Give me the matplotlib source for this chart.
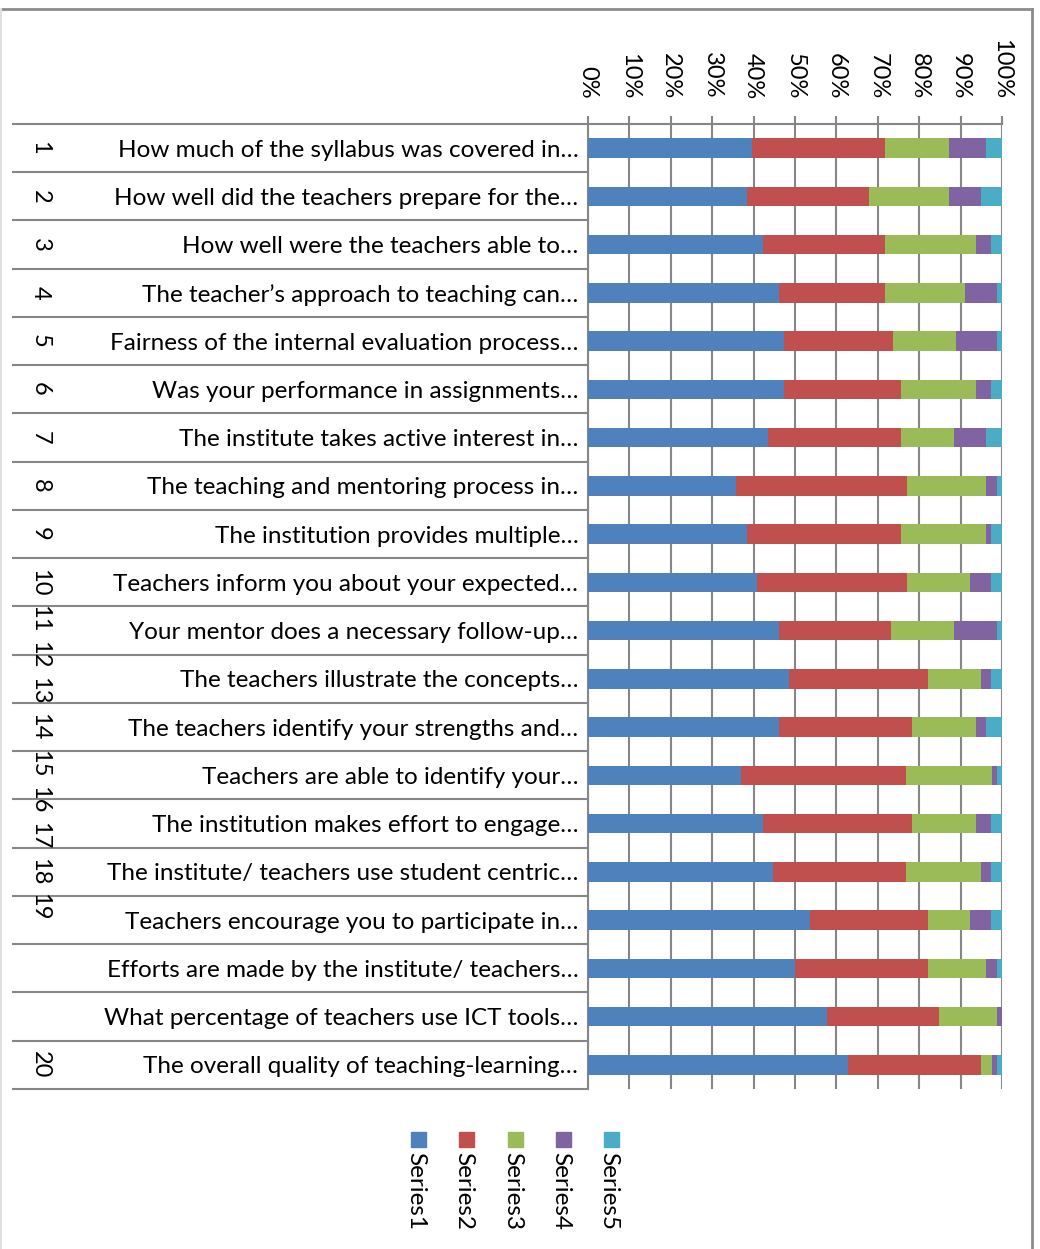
import numpy as np
import matplotlib
matplotlib.use("Agg")
import matplotlib.pyplot as plt
from matplotlib.lines import Line2D
from matplotlib.patches import Rectangle

# survey questions (inner category level) and outer numbering
questions = [
    "How much of the syllabus was covered in\u2026",
    "How well did the teachers prepare for the\u2026",
    "How well were the teachers able to\u2026",
    "The teacher\u2019s approach to teaching can\u2026",
    "Fairness of the internal evaluation process\u2026",
    "Was your performance in assignments\u2026",
    "The institute takes active interest in\u2026",
    "The teaching and mentoring process in\u2026",
    "The institution provides multiple\u2026",
    "Teachers inform you about your expected\u2026",
    "Your mentor does a necessary follow-up\u2026",
    "The teachers illustrate the concepts\u2026",
    "The teachers identify your strengths and\u2026",
    "Teachers are able to identify your\u2026",
    "The institution makes effort to engage\u2026",
    "The institute/ teachers use student centric\u2026",
    "Teachers encourage you to participate in\u2026",
    "Efforts are made by the institute/ teachers\u2026",
    "What percentage of teachers use ICT tools\u2026",
    "The overall quality of teaching-learning\u2026",
]
outer_labels = [str(i) for i in range(1, 21)]
# row where each outer label ends up (Excel squeezed 10-19 together)
outer_rows = [1, 2, 3, 4, 5, 6, 7, 8, 9,
              10, 10.75, 11.5, 12.25, 13, 13.75, 14.5, 15.25, 16, 16.73, 20]

series_names = ["Series1", "Series2", "Series3", "Series4", "Series5"]
s1 = [39.7, 38.5, 42.3, 46.2, 47.3, 47.3, 43.5, 35.8, 38.5, 40.9,
      46.2, 48.6, 46.2, 37.0, 42.3, 44.7, 53.7, 50.0, 57.8, 62.7]
s2 = [32.0, 29.4, 29.4, 25.5, 26.4, 28.3, 32.1, 41.2, 37.1, 36.1,
      27.0, 33.5, 32.0, 39.8, 35.9, 32.1, 28.4, 32.1, 26.9, 32.2]
s3 = [15.6, 19.4, 22.0, 19.4, 15.1, 18.1, 12.9, 19.1, 20.5, 15.3,
      15.3, 12.8, 15.5, 20.7, 15.5, 18.1, 10.2, 14.0, 14.0, 2.6]
s4 = [8.8, 7.6, 3.7, 7.6, 9.9, 3.7, 7.6, 2.6, 1.3, 5.1,
      10.2, 2.5, 2.4, 1.2, 3.7, 2.5, 5.1, 2.6, 1.3, 1.2]
s5 = [3.9, 5.1, 2.6, 1.3, 1.3, 2.6, 3.9, 1.3, 2.6, 2.6,
      1.3, 2.6, 3.9, 1.3, 2.6, 2.6, 2.6, 1.3, 0.0, 1.3]
colors = ["#4F81BD", "#C0504D", "#9BBB59", "#8064A2", "#4BACC6"]

plt.rcParams["font.family"] = ["Lato", "DejaVu Sans"]

W, H = 1040, 1249
fig = plt.figure(figsize=(W / 100, H / 100), dpi=100)

def fx(px):
    return px / W

def fy(py):
    return 1 - py / H

# plot area in pixels
x0, x1, y0, y1 = 588, 1002, 124, 1089
ax = fig.add_axes([fx(x0), fy(y1), fx(x1) - fx(x0), fy(y0) - fy(y1)])

data = np.array([s1, s2, s3, s4, s5])
total = data.sum(axis=0)
pct = data / total * 100
rows = np.arange(1, len(questions) + 1)
left = np.zeros(len(questions))
for i in range(len(series_names)):
    ax.barh(rows, pct[i], left=left, height=0.4, color=colors[i],
            label=series_names[i], zorder=3)
    left += pct[i]

ax.set_xlim(0, 100)
ax.set_ylim(len(questions) + 0.5, 0.5)

grid_c = "#868686"
ax.xaxis.tick_top()
ax.set_xticks(np.arange(0, 101, 10))
ax.set_xticklabels([f"{v}%" for v in range(0, 101, 10)], rotation=-90,
                   fontsize=17)
ax.tick_params(axis="x", length=6, width=1.5, color=grid_c, pad=12)
ax.grid(axis="x", color=grid_c, lw=1.5, zorder=0)

ax.set_yticks(rows)
ax.set_yticklabels(questions, fontsize=17.5)
ax.tick_params(axis="y", length=0, pad=7)

for side in ["right", "bottom"]:
    ax.spines[side].set_visible(False)
for side in ["left", "top"]:
    ax.spines[side].set_color(grid_c)
    ax.spines[side].set_linewidth(1.5)

# outer category separator lines and numbers
xl = (12 - x0) / (x1 - x0)
xn = (40 - x0) / (x1 - x0)
tr = ax.get_yaxis_transform()
for b in np.arange(0.5, len(questions) + 1, 1):
    ax.plot([xl, 0], [b, b], transform=tr, color=grid_c, lw=1.5,
            clip_on=False, solid_capstyle="butt")
for lab, r in zip(outer_labels, outer_rows):
    ax.text(xn, r, lab, transform=tr, rotation=-90, ha="center",
            va="center", fontsize=17)

# legend drawn by hand, rotated like the rest
leg_x = [418, 466, 515, 563, 611]
for name, c, lx in zip(series_names, colors, leg_x):
    fig.patches.append(Rectangle((fx(lx - 7.5), fy(1146.5)), 15 / W, 15 / H,
                                 transform=fig.transFigure, color=c))
    fig.text(fx(lx - 2), fy(1152), name, rotation=-90, ha="center", va="top",
             fontsize=17.5)

# outer chart frame
frame_c = "#8c8c8c"
fig.lines.append(Line2D([0, fx(1032)], [fy(9), fy(9)], color=frame_c, lw=2,
                        transform=fig.transFigure))
fig.lines.append(Line2D([fx(1032), fx(1032)], [fy(9), 0], color=frame_c, lw=2,
                        transform=fig.transFigure))
fig.lines.append(Line2D([fx(1), fx(1)], [fy(9), 0], color="#e0e0e0", lw=1.5,
                        transform=fig.transFigure))

fig.savefig("out.png", dpi=100)
